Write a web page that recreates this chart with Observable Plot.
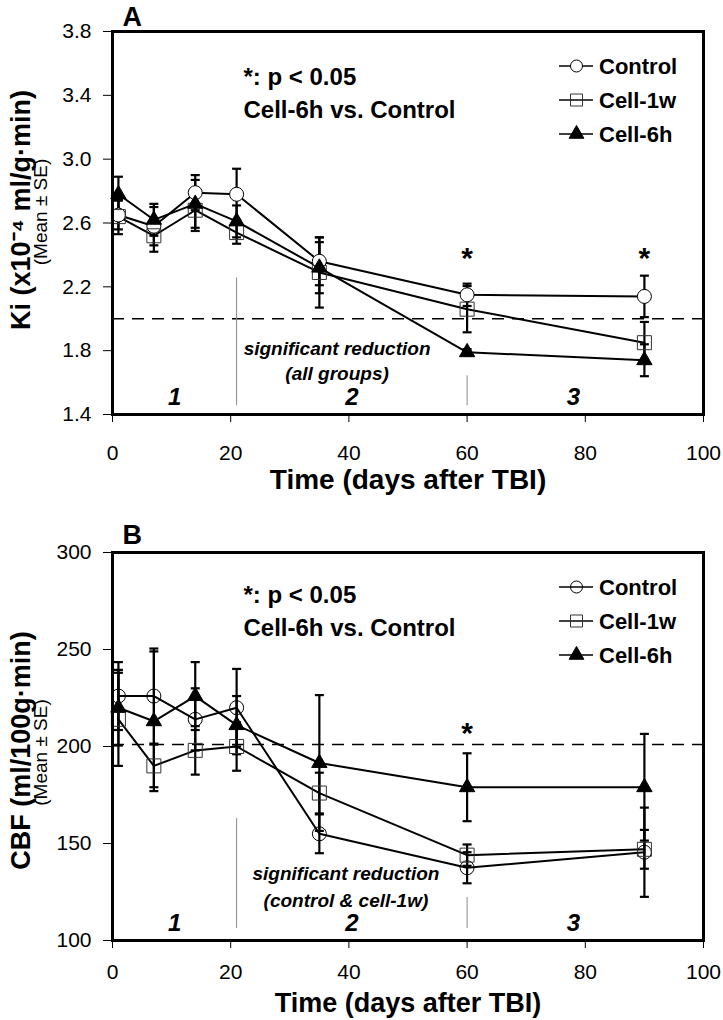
<!DOCTYPE html>
<html><head><meta charset="utf-8">
<script src="https://cdn.jsdelivr.net/npm/d3@7"></script>
<script src="https://cdn.jsdelivr.net/npm/@observablehq/plot@0.6"></script>
<style>
body{margin:0;background:#fff;}
#chart svg{display:block;}
</style></head><body><div id="chart"></div>
<script>
// ---------- data ----------
const days = [1, 7, 14, 21, 35, 60, 90];
const seriesNames = ["Control", "Cell-1w", "Cell-6h"];

// Panel A: Ki (x10^-4 ml/g·min), mean and SE
const kiControl   = [2.65, 2.58, 2.79, 2.78, 2.36, 2.15, 2.14];
const kiControlSE = [0.09, 0.12, 0.11, 0.16, 0.15, 0.07, 0.13];
const kiCell1w    = [2.64, 2.52, 2.68, 2.54, 2.29, 2.06, 1.85];
const kiCell1wSE  = [0.11, 0.10, 0.13, 0.07, 0.22, 0.145, 0.13];
const kiCell6h    = [2.78, 2.62, 2.72, 2.61, 2.32, 1.79, 1.74];
const kiCell6hSE  = [0.11, 0.10, 0.15, 0.10, 0.16, 0.02, 0.10];

// Panel B: CBF (ml/100g·min), mean and SE
const cbfControl   = [226, 226, 214, 220, 155, 137.5, 145.5];
const cbfControlSE = [17.5, 24.5, 16, 20, 10, 8, 23];
const cbfCell1w    = [214, 190, 198, 200, 176, 144, 147];
const cbfCell1wSE  = [24, 11, 12.5, 12.5, 10.5, 5.5, 10];
const cbfCell6h    = [220, 213, 226, 211, 191.5, 179, 179];
const cbfCell6hSE  = [19.5, 36, 17.5, 15, 35, 17.5, 27.5];

// axes
const xTicks = [0, 20, 40, 60, 80, 100];
const kiTicks = [1.4, 1.8, 2.2, 2.6, 3.0, 3.4, 3.8];
const cbfTicks = [100, 150, 200, 250, 300];

// annotations
const kiRef = 2.0;
const cbfRef = 201;
const phaseBounds = [21, 60];
const kiPhaseTop = [2.256, 1.643];
const kiPhaseBottom = 1.455;
const cbfPhaseTop = [162.9, 122.2];
const cbfPhaseBottom = 106.2;
const phaseLabels = ["1", "2", "3"];
const phaseLabelDays = [10.5, 40.5, 78];
const kiPhaseLabelY = 1.505;
const cbfPhaseLabelY = 108.8;
const kiSigDays = [60, 90];
const kiSigY = 2.43;
const cbfSigDays = [60];
const cbfSigY = 210.8;
const kiNoteLines = ["significant reduction", "(all groups)"];
const kiNoteDay = 38;
const kiNoteY = [1.81, 1.655];
const cbfNoteLines = ["significant reduction", "(control & cell-1w)"];
const cbfNoteDay = 39.5;
const cbfNoteY = [134.5, 120.6];
const statLines = ["*: p < 0.05", "Cell-6h vs. Control"];
const xTitle = "Time (days after TBI)";
const kiTitle = "Ki (x10\u207B\u2074 ml/g\u00B7min)";
const cbfTitle = "CBF (ml/100g\u00B7min)";
const seTitle = "(Mean \u00B1 SE)";

// ---------- helpers ----------
const FONT = "'Liberation Sans', Arial, Helvetica, sans-serif";
const NARROW = "'Liberation Sans Narrow', 'Arial Narrow', 'Liberation Sans', Arial, sans-serif";
function rows(list) {
  const out = [];
  list.forEach(([name, vals, ses]) => vals.forEach((v, i) => out.push({series: name, day: days[i], value: v, se: ses[i]})));
  return out;
}
const capSymbol = {draw(ctx, size) { const w = Math.sqrt(size / Math.PI); ctx.moveTo(-w, 0); ctx.lineTo(w, 0); }};

function legendMark(mt, ml, circleFill) {
  return () => {
    const g = d3.create("svg:g");
    const shapes = [
      {sym: d3.symbolCircle, size: Math.PI * 36, fill: circleFill, stroke: "black"},
      {sym: d3.symbolSquare, size: 144, fill: "none", stroke: "#333"},
      {sym: d3.symbolTriangle, size: 95, fill: "black", stroke: "black"}
    ];
    seriesNames.forEach((name, i) => {
      const y = mt + 35 + i * 34;
      g.append("line").attr("x1", ml + 447).attr("x2", ml + 481).attr("y1", y).attr("y2", y)
        .attr("stroke", "black").attr("stroke-width", 1.6);
      const s = shapes[i];
      g.append("path").attr("d", d3.symbol(s.sym, s.size)()).attr("transform", `translate(${ml + 464.5},${y})`)
        .attr("fill", s.fill).attr("stroke", s.stroke).attr("stroke-width", 1);
      g.append("text").attr("x", ml + 487).attr("y", y).attr("dy", "0.36em").attr("text-anchor", "start")
        .attr("font-size", 22).attr("font-weight", "bold").attr("font-family", FONT).attr("fill", "black").text(name);
    });
    return g.node();
  };
}

function panel(o) {
  const data = o.data;
  const by = n => data.filter(d => d.series === n);
  const phase = phaseBounds.map((d, i) => ({day: d, top: o.phaseTop[i], bottom: o.phaseBottom}));
  return Plot.plot({
    width: 723, height: o.height,
    marginLeft: o.ml, marginRight: 20, marginTop: o.mt, marginBottom: o.mb,
    style: {fontFamily: FONT, fontSize: "21px", color: "black", background: "white"},
    x: {domain: [0, 100]},
    y: {domain: o.yDomain},
    marks: [
      Plot.ruleY([o.ref], {stroke: "black", strokeWidth: 1.6, strokeDasharray: "12,8"}),
      Plot.ruleX(phase, {x: "day", y1: "top", y2: "bottom", stroke: "#8a8a8a", strokeWidth: 1}),
      Plot.line(data, {x: "day", y: "value", z: "series", stroke: "black", strokeWidth: 2}),
      Plot.ruleX(data, {x: "day", y1: d => d.value - d.se, y2: d => d.value + d.se, stroke: "black", strokeWidth: 2.2}),
      Plot.dot(data, {x: "day", y: d => d.value + d.se, symbol: capSymbol, r: 4.5, fill: "none", stroke: "black", strokeWidth: 2.2}),
      Plot.dot(data, {x: "day", y: d => d.value - d.se, symbol: capSymbol, r: 4.5, fill: "none", stroke: "black", strokeWidth: 2.2}),
      Plot.dot(by("Control"), {x: "day", y: "value", symbol: "circle", r: 7, fill: o.circleFill, stroke: "black", strokeWidth: 1}),
      Plot.dot(by("Cell-1w"), {x: "day", y: "value", symbol: "square", r: 7.9, fill: "none", stroke: "#333", strokeWidth: 1}),
      Plot.dot(by("Cell-6h"), {x: "day", y: "value", symbol: "triangle", r: 5.7, fill: "black", stroke: "black", strokeWidth: 1}),
      Plot.text(o.sigDays, {x: d => d, y: () => o.sigY, text: () => "*", fontSize: 30, fontWeight: "bold", dy: 8}),
      Plot.text(o.noteLines, {x: () => o.noteDay, y: (d, i) => o.noteY[i], text: d => d, fontSize: 19, fontWeight: "bold", fontStyle: "italic"}),
      Plot.text(phaseLabels, {x: (d, i) => phaseLabelDays[i], y: () => o.phaseLabelY, text: d => d, fontSize: 24, fontWeight: "bold", fontStyle: "italic"}),
      Plot.text([statLines[0]], {frameAnchor: "top-left", dx: 131, dy: o.statDy, textAnchor: "start", lineAnchor: "middle", fontSize: 24, fontWeight: "bold"}),
      Plot.text([statLines[1]], {frameAnchor: "top-left", dx: 131, dy: o.statDy + 33, textAnchor: "start", lineAnchor: "middle", fontSize: 24, fontWeight: "bold"}),
      Plot.text([o.letter], {frameAnchor: "top-left", dx: 10, dy: o.letterDy, textAnchor: "start", lineAnchor: "bottom", fontSize: 27, fontWeight: "bold"}),
      Plot.text([o.yTitle], {frameAnchor: "left", dx: -91, dy: o.yTitleDy, rotate: -90, textAnchor: "middle", lineAnchor: "middle", fontSize: 27, fontWeight: "bold"}),
      Plot.text([seTitle], {frameAnchor: "left", dx: -72, dy: o.yTitleDy + 2, rotate: -90, textAnchor: "middle", lineAnchor: "middle", fontSize: 19, fontFamily: NARROW}),
      Plot.text([xTitle], {frameAnchor: "bottom", dy: o.xTitleDy, textAnchor: "middle", lineAnchor: "middle", fontSize: o.xTitleSize, fontWeight: "bold"}),
      Plot.axisX({ticks: xTicks, tickSize: 8, tickPadding: o.xPad, tickFormat: d => String(d), label: null}),
      Plot.axisY({ticks: o.yTicks, tickSize: 9, tickPadding: 12, tickFormat: o.yFmt, label: null}),
      Plot.frame({stroke: "black", strokeWidth: 3}),
      legendMark(o.mt, o.ml, o.circleFill)
    ]
  });
}

const chart = document.getElementById("chart");
chart.appendChild(panel({
  data: rows([["Control", kiControl, kiControlSE], ["Cell-1w", kiCell1w, kiCell1wSE], ["Cell-6h", kiCell6h, kiCell6hSE]]),
  height: 500, ml: 112, mt: 31, mb: 86,
  yDomain: [1.4, 3.8], yTicks: kiTicks, yFmt: d3.format(".1f"),
  ref: kiRef, phaseTop: kiPhaseTop, phaseBottom: kiPhaseBottom, phaseLabelY: kiPhaseLabelY,
  sigDays: kiSigDays, sigY: kiSigY, noteLines: kiNoteLines, noteDay: kiNoteDay, noteY: kiNoteY,
  circleFill: "white", statDy: 46, letter: "A", letterDy: -6,
  yTitle: kiTitle, yTitleDy: -13, xTitleDy: 66, xPad: 23, xTitleSize: 28
}));
chart.appendChild(panel({
  data: rows([["Control", cbfControl, cbfControlSE], ["Cell-1w", cbfCell1w, cbfCell1wSE], ["Cell-6h", cbfCell6h, cbfCell6hSE]]),
  height: 520, ml: 112, mt: 52, mb: 80,
  yDomain: [100, 300], yTicks: cbfTicks, yFmt: d3.format("d"),
  ref: cbfRef, phaseTop: cbfPhaseTop, phaseBottom: cbfPhaseBottom, phaseLabelY: cbfPhaseLabelY,
  sigDays: cbfSigDays, sigY: cbfSigY, noteLines: cbfNoteLines, noteDay: cbfNoteDay, noteY: cbfNoteY,
  circleFill: "none", statDy: 43, letter: "B", letterDy: -9,
  yTitle: cbfTitle, yTitleDy: 4, xTitleDy: 63, xPad: 16, xTitleSize: 27
}));
</script></body></html>
